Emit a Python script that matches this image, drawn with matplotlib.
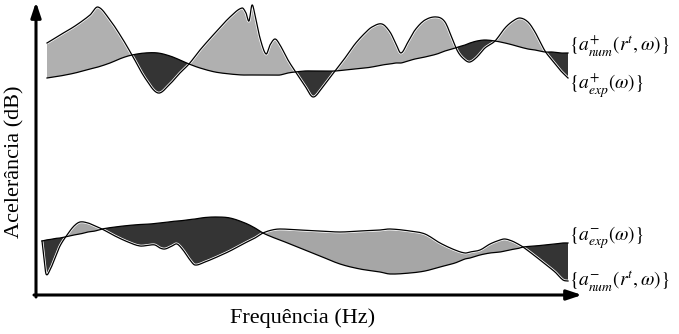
import numpy as np
import matplotlib
matplotlib.use("Agg")
import matplotlib.pyplot as plt

plt.rcParams['mathtext.fontset'] = 'stix'

# ---- upper pair (positive), positions in frequency units, levels (depth, larger = lower)
x_top = [47, 60, 75, 90, 98, 110, 122, 132, 145, 158, 170, 180, 189, 200, 215, 230,
         242, 246, 249, 252, 255, 260, 266, 270, 275, 280, 288, 295, 305, 313, 322,
         335, 345, 355, 365, 372, 382, 390, 396, 401, 408, 415, 425, 437, 445, 452,
         458, 465, 470, 477, 485, 495, 505, 513, 520, 528, 535, 545, 552, 560, 568]
num_top = [43, 35, 26, 15, 7, 20, 38, 55, 78, 93, 84, 73, 64, 50, 33, 17,
           8, 13, 21, 5, 15, 38, 54, 45, 39, 45, 60, 71, 86, 97, 88,
           71, 58, 44, 33, 27, 24, 32, 44, 53, 42, 30, 20, 17, 22, 38,
           52, 60, 62, 57, 48, 41, 28, 21, 18, 22, 32, 51, 60, 70, 78]
exp_top = [78, 76, 73, 69, 67, 63, 58, 55, 53, 53, 56, 60, 64, 68, 72, 74,
           75, 75, 75, 75, 75, 75, 75, 75, 75, 75, 73, 72, 71, 71, 71,
           71, 70, 69, 68, 67, 65, 64, 63, 63, 61, 59, 57, 54, 51, 49,
           47, 45, 43, 41, 40, 41, 43, 45, 47, 49, 50, 52, 52, 53, 53]

# ---- lower pair (negative)
x_bot = [42, 44, 46, 50, 55, 60, 67, 74, 80, 88, 95, 102, 115, 128, 140, 150, 155,
         160, 165, 172, 177, 183, 190, 195, 205, 217, 230, 245, 255, 263, 272, 280,
         300, 320, 340, 360, 380, 390, 410, 425, 440, 455, 465, 470, 480, 490, 500,
         505, 512, 518, 523, 535, 545, 555, 563, 568]
num_bot = [241, 258, 274, 270, 258, 246, 235, 226, 222, 223, 226, 229, 236, 242, 246, 245, 245,
           248, 249, 246, 244, 250, 260, 265, 262, 257, 251, 243, 238, 233, 230, 229,
           230, 231, 232, 231, 230, 229, 231, 234, 243, 250, 253, 252, 250, 244, 240,
           239, 241, 244, 247, 256, 264, 272, 280, 281]
exp_bot = [241, 240.5, 240, 239.5, 238.5, 238, 236.5, 235, 234, 232, 231, 229, 227, 225.5, 224.5, 224, 223.5,
           223, 222.5, 221.5, 221, 220.5, 219.5, 219, 217.5, 217, 218, 223, 228, 233, 237, 240,
           248, 256, 264, 269, 272, 274, 273, 271, 267, 263, 259, 258, 255, 253, 252,
           251, 249.5, 248.5, 247, 246, 245, 244, 243, 243]

labels = [r'$\{a^{+}_{num}(r^{t},\omega)\}$', r'$\{a^{+}_{exp}(\omega)\}$',
          r'$\{a^{-}_{exp}(\omega)\}$', r'$\{a^{-}_{num}(r^{t},\omega)\}$']
label_y = [45, 86, 238, 281]

LIGHT_TOP = '#b0b0b0'
LIGHT_BOT = '#a6a6a6'
DARK = '#343434'


def hermite(xs, ys, n_sub=8):
    """Draw a smooth cubic Hermite curve through the read points."""
    xs = np.asarray(xs, float); ys = np.asarray(ys, float)
    m = np.empty_like(ys)
    m[1:-1] = (ys[2:] - ys[:-2]) / (xs[2:] - xs[:-2])
    m[0] = (ys[1] - ys[0]) / (xs[1] - xs[0])
    m[-1] = (ys[-1] - ys[-2]) / (xs[-1] - xs[-2])
    X, Y = [], []
    for i in range(len(xs) - 1):
        h = xs[i + 1] - xs[i]
        t = np.linspace(0, 1, n_sub, endpoint=False)
        h00 = 2 * t**3 - 3 * t**2 + 1
        h10 = t**3 - 2 * t**2 + t
        h01 = -2 * t**3 + 3 * t**2
        h11 = t**3 - t**2
        X.append(xs[i] + t * h)
        Y.append(h00 * ys[i] + h10 * h * m[i] + h01 * ys[i + 1] + h11 * h * m[i + 1])
    X.append([xs[-1]]); Y.append([ys[-1]])
    return np.concatenate(X), np.concatenate(Y)


fig = plt.figure(figsize=(6.79, 3.34), dpi=100)
ax = fig.add_axes([0, 0, 1, 1])
ax.set_xlim(0, 679)
ax.set_ylim(334, 0)
ax.axis('off')

for xs, n, e, light in [(x_top, num_top, exp_top, LIGHT_TOP),
                        (x_bot, num_bot, exp_bot, LIGHT_BOT)]:
    X, N = hermite(xs, n)
    _, E = hermite(xs, e)
    ax.fill_between(X, N, E, where=N <= E, interpolate=True, color=light, lw=0)
    ax.fill_between(X, N, E, where=N >= E, interpolate=True, color=DARK, lw=0)
    ax.plot(X, N, color='white', lw=2.0, solid_capstyle='butt')
    ax.plot(X, N, color='black', lw=0.9)
    ax.plot(X, E, color='black', lw=0.9)

for t, y in zip(labels, label_y):
    ax.text(569, y, t, fontsize=14, va='center', ha='left')

# axes arrows
ax.annotate('', xy=(36, 2), xytext=(36, 297),
            arrowprops=dict(arrowstyle='-|>,head_length=0.9,head_width=0.3',
                            color='black', lw=2.2, shrinkA=0, shrinkB=0))
ax.annotate('', xy=(582, 295), xytext=(34, 295),
            arrowprops=dict(arrowstyle='-|>,head_length=0.9,head_width=0.3',
                            color='black', lw=2.2, shrinkA=0, shrinkB=0))

ax.text(303, 318, 'Frequência (Hz)', fontsize=16, family='Liberation Serif',
        ha='center', va='center')
ax.text(15, 162, 'Acelerância (dB)', fontsize=16, family='Liberation Serif',
        ha='center', va='center', rotation=90)

fig.savefig('out.png', dpi=100)
